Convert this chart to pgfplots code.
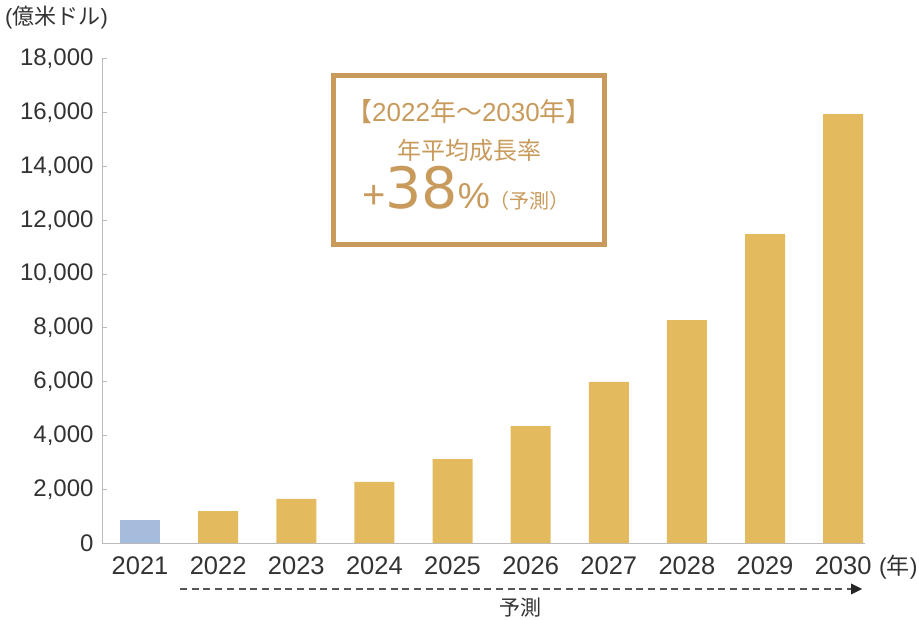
\documentclass[border=0pt]{standalone}
\usepackage{pgfplots}
\pgfplotsset{compat=1.18}
\usetikzlibrary{arrows.meta}
\usepackage{fontspec}
\setmainfont{Liberation Sans}
\newfontfamily\jp{Noto Sans CJK JP}
\newfontfamily\djv{DejaVu Sans}
\definecolor{gold}{HTML}{E3BB5E}
\definecolor{blu}{HTML}{A6BCDC}
\definecolor{boxc}{HTML}{C89A5C}
\definecolor{txt}{HTML}{333333}
\definecolor{axc}{HTML}{BBBBBB}
\definecolor{arr}{HTML}{555555}
\begin{document}
\begin{tikzpicture}
\path[use as bounding box] (0,0) rectangle (919pt,619pt);
\begin{axis}[
  at={(102pt,76pt)}, anchor=south west, scale only axis,
  width=763pt, height=484pt,
  xmin=-0.487, xmax=9.28, ymin=0, ymax=18000,
  axis lines*=left,
  axis line style={color=axc, line width=1pt},
  xtick={0,1,2,3,4,5,6,7,8,9},
  xticklabels={2021,2022,2023,2024,2025,2026,2027,2028,2029,2030},
  x tick style={draw=none},
  ytick={0,2000,4000,6000,8000,10000,12000,14000,16000,18000},
  y tick style={color=axc, line width=1pt},
  major tick length=5pt, tick align=inside,
  tick label style={color=txt},
  yticklabel style={font=\fontsize{24}{28}\selectfont, xshift=-5pt},
  xticklabel style={font=\fontsize{25.5}{30}\selectfont, anchor=base, yshift=-31pt},
  scaled y ticks=false,
  /pgf/number format/1000 sep={,},
  /pgf/number format/assume math mode=true,
  clip=false,
]
\addplot[ybar, bar width=40pt, bar shift=0pt, fill=blu, draw=none] coordinates {(0,860)};
\addplot[ybar, bar width=40pt, bar shift=0pt, fill=gold, draw=none] coordinates {(1,1190) (2,1640) (3,2270) (4,3120) (5,4350) (6,5990) (7,8290) (8,11490) (9,15950)};
\end{axis}
% unit label
\node[anchor=base west, inner sep=0pt, color=txt, font=\fontsize{22}{26}\selectfont] at (5pt,594pt) {({\jp 億米ドル})};
\node[anchor=base west, inner sep=0pt, color=txt, font=\fontsize{23}{27}\selectfont] at (879pt,45pt) {({\jp 年})};
% forecast arrow
\draw[arr, line width=1.5pt, dash pattern=on 7pt off 4.7pt] (180pt,30pt) -- (852pt,30pt);
\fill[black!85] (851pt,35.5pt) -- (862pt,30pt) -- (851pt,24.5pt) -- cycle;
\node[anchor=base, inner sep=0pt, color=txt, font=\jp\fontsize{21}{24}\selectfont] at (520pt,4pt) {予測};
% box
\draw[boxc, line width=5pt] (333.5pt,543.5pt) rectangle (604.5pt,374.5pt);
\node[anchor=base, inner sep=0pt, color=boxc, font=\fontsize{26}{30}\selectfont] at (469pt,497pt) {{\jp 【}2022{\jp 年～}2030{\jp 年】}};
\node[anchor=base, inner sep=0pt, color=boxc, font=\jp\fontsize{24}{28}\selectfont] at (469pt,459pt) {年平均成長率};
\node[anchor=base, inner sep=0pt, color=boxc] at (466pt,410pt) {{\fontsize{40}{40}\selectfont +}{\djv\fontsize{57}{57}\selectfont 38}{\fontsize{36}{36}\selectfont\%}{\jp\fontsize{20}{20}\selectfont （予測）}};
\end{tikzpicture}
\end{document}
